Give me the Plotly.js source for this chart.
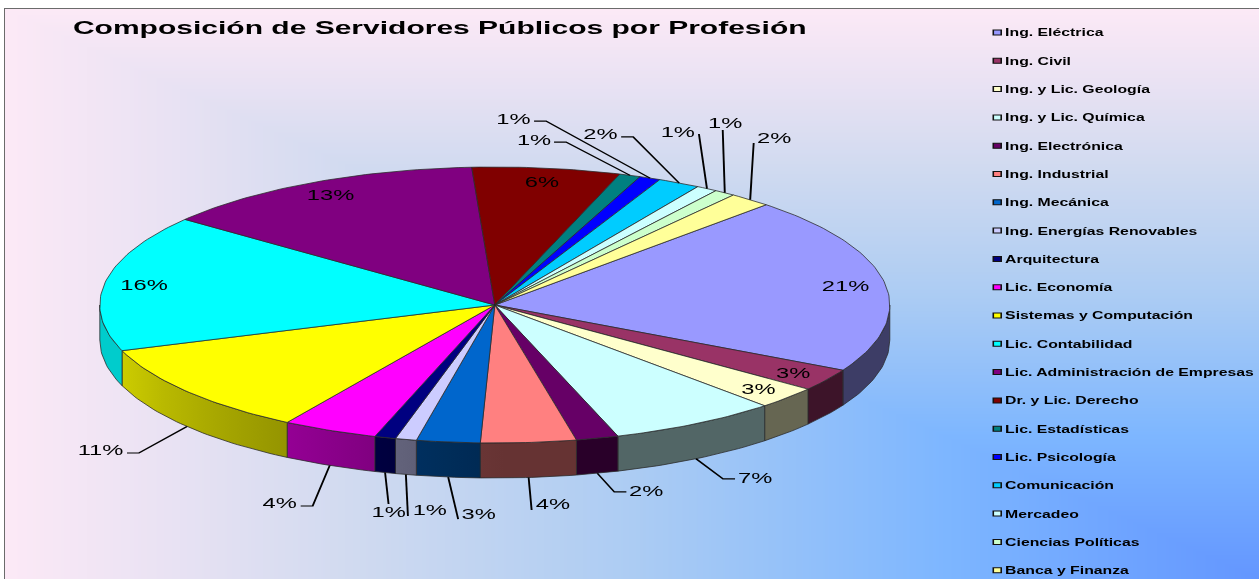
<!DOCTYPE html>
<html><head><meta charset="utf-8">
<script src="https://cdn.plot.ly/plotly-3.0.1.min.js"></script>
<style>
html,body{margin:0;padding:0;background:#fff;width:1259px;height:579px;overflow:hidden}
#frame{position:absolute;left:4px;top:8px;width:1255px;height:571px;border-left:1px solid #6b6b6b;border-top:1px solid #6b6b6b;box-sizing:border-box;overflow:hidden}
#bg{position:absolute;left:0;top:0}
#chart{position:absolute;left:0;top:0;width:830px;height:600px;transform:scaleX(1.58);transform-origin:0 0}
#chart .legendtext{transform:translateX(-15px)}
</style></head><body>
<div id="frame"><canvas id="bg" width="1255" height="571"></canvas><div id="chart"></div></div>
<script>
// ---------------- data ----------------
const categories = ["Ing. Eléctrica","Ing. Civil","Ing. y Lic. Geología","Ing. y Lic. Química","Ing. Electrónica","Ing. Industrial","Ing. Mecánica","Ing. Energías Renovables","Arquitectura","Lic. Economía","Sistemas y Computación","Lic. Contabilidad","Lic. Administración de Empresas","Dr. y Lic. Derecho","Lic. Estadísticas","Lic. Psicología","Comunicación","Mercadeo","Ciencias Políticas","Banca y Finanza"];
const counts = [48,6,6,16,4,9,6,2,2,9,25,37,31,14,2,2,4,2,2,4];
const sliceColors = ["#9999FF","#993366","#FFFFCC","#CCFFFF","#660066","#FF8080","#0066CC","#CCCCFF","#000080","#FF00FF","#FFFF00","#00FFFF","#800080","#800000","#008080","#0000FF","#00CCFF","#CCFFFF","#CCFFCC","#FFFF99"];
const chartTitle = "Composición de Servidores Públicos por Profesión";

// ---------------- layout config (not data) ----------------
const PW = 830, PH = 600;
const G = {cx:310, cy:296, a:250, b:138, depth:35, start:-46.6};
const labelLayout = [
 {mode:'in'},{mode:'in'},{mode:'in'},
 {mode:'R',dx:17.1,dy:20.2},{mode:'R',dx:10.8,dy:18.7},
 {mode:'r',dx:1.9,dy:32.5},{mode:'r',dx:6.3,dy:42},{mode:'r',dx:1.3,dy:41.5},
 {mode:'B',dx:2.2,dy:31.4},{mode:'L',dx:-10.8,dy:40.6},{mode:'L',dx:-30.4,dy:26.5},
 {mode:'in'},{mode:'in'},{mode:'in'},
 {mode:'L',dx:-40.5,dy:-33.3},{mode:'L',dx:-65.8,dy:-57},{mode:'L',dx:-29.1,dy:-46},
 {mode:'l',dx:-5.1,dy:-54.6},{mode:'T',dx:-1.3,dy:-62.8},{mode:'r',dx:2.2,dy:-56.7}
];
const FONT = "Liberation Sans, Arial, sans-serif";

// ---------------- background gradient ----------------
(function(){
  const cv=document.getElementById('bg'), ctx=cv.getContext('2d');
  const W=cv.width,H=cv.height,img=ctx.createImageData(W,H);
  const stops=[[0,[99,150,255]],[0.25,[125,182,255]],[0.5,[172,204,243]],[0.72,[208,218,240]],[0.87,[233,226,243]],[1,[252,233,246]]];
  function col(t){for(let i=1;i<stops.length;i++){if(t<=stops[i][0]){const a=stops[i-1],b=stops[i],f=(t-a[0])/(b[0]-a[0]);return [0,1,2].map(k=>a[1][k]+(b[1][k]-a[1][k])*f);}}return stops[stops.length-1][1];}
  for(let y=0;y<H;y++){for(let x=0;x<W;x++){const t=Math.max(1-x/(W-1),1-y/(H-1));const c=col(t);const p=(y*W+x)*4;img.data[p]=c[0];img.data[p+1]=c[1];img.data[p+2]=c[2];img.data[p+3]=255;}}
  ctx.putImageData(img,0,0);
})();

// ---------------- geometry helpers ----------------
const total = counts.reduce((s,v)=>s+v,0);
const rad = d=>d*Math.PI/180;
function pt(th,dz){return [G.cx+G.a*Math.cos(rad(th)), G.cy+G.b*Math.sin(rad(th))+(dz||0)];}
function hexRGB(h){return [parseInt(h.substr(1,2),16),parseInt(h.substr(3,2),16),parseInt(h.substr(5,2),16)];}
function scaleColor(h,f){const c=hexRGB(h);return 'rgb('+c.map(v=>Math.round(v*f)).join(',')+')';}
function shade(th){return 0.4+0.4*Math.min(1,Math.max(0,(th-90)/70));}
function arc(t0,t1,dz){const n=Math.max(2,Math.ceil(Math.abs(t1-t0)/1));const xs=[],ys=[];for(let i=0;i<=n;i++){const p=pt(t0+(t1-t0)*i/n,dz);xs.push(p[0]);ys.push(p[1]);}return [xs,ys];}

const angles=[];let cum=0;
counts.forEach(v=>{const t0=G.start+cum/total*360;cum+=v;const t1=G.start+cum/total*360;angles.push([t0,t1]);});

const sideTraces=[], topTraces=[], legendTraces=[];
angles.forEach(([t0,t1],i)=>{
  const lo=Math.max(t0,0), hi=Math.min(t1,180);
  if(lo<hi){
    const top=arc(lo,hi,0), bot=arc(hi,lo,G.depth);
    const xs=top[0].concat(bot[0]); xs.push(top[0][0]);
    const ys=top[1].concat(bot[1]); ys.push(top[1][0]);
    const xmin=pt(hi)[0], xmax=pt(lo)[0];
    const cs=[];
    for(let k=0;k<=4;k++){const f=k/4;const x=xmin+f*(xmax-xmin);const c=Math.max(-1,Math.min(1,(x-G.cx)/G.a));const th=Math.acos(c)*180/Math.PI;cs.push([f,scaleColor(sliceColors[i],shade(th))]);}
    sideTraces.push({type:'scatter',mode:'lines',x:xs,y:ys,fill:'toself',fillcolor:scaleColor(sliceColors[i],shade((lo+hi)/2)),
      fillgradient:{type:'horizontal',colorscale:cs},line:{color:'#2a2a2a',width:0.6},hoverinfo:'skip',showlegend:false});
  }
  const a=arc(t0,t1,0);
  topTraces.push({type:'scatter',mode:'lines',x:[G.cx].concat(a[0],[G.cx]),y:[G.cy].concat(a[1],[G.cy]),fill:'toself',
    fillcolor:sliceColors[i],line:{color:'#2a2a2a',width:0.6},hoverinfo:'skip',showlegend:false,name:categories[i]});
  legendTraces.push({type:'scatter',mode:'markers',x:[null],y:[null],name:categories[i],legendgroup:'g'+i,showlegend:true,
    marker:{symbol:'square',size:5,color:sliceColors[i],line:{color:'#111',width:1}}});
});

// ---------------- labels ----------------
const annotations=[]; const lx=[], ly=[];
const TAIL=7.6;
function lab(x,y,text,xa){annotations.push({x:x,y:y,xref:'x',yref:'y',text:text,showarrow:false,xanchor:xa,yanchor:'middle',borderpad:0,font:{family:FONT,size:15,color:'#000'}});}
angles.forEach(([t0,t1],i)=>{
  const mid=(t0+t1)/2, txt=Math.round(counts[i]/total*100)+'%', L=labelLayout[i];
  if(L.mode==='in'){const p=[G.cx+0.9*G.a*Math.cos(rad(mid)),G.cy+0.9*G.b*Math.sin(rad(mid))];lab(p[0],p[1],txt,'center');return;}
  const front=Math.sin(rad(mid))>0;
  const A=pt(mid,front?G.depth:0);
  const E=[A[0]+L.dx,A[1]+L.dy];
  lx.push(A[0],E[0]); ly.push(A[1],E[1]);
  if(L.mode==='L'){const T=E[0]-TAIL;lx.push(T);ly.push(E[1]);lab(T-1,E[1]-3,txt,'right');}
  else if(L.mode==='R'){const T=E[0]+TAIL;lx.push(T);ly.push(E[1]);lab(T+1,E[1]-1,txt,'left');}
  else if(L.mode==='r'){lab(E[0]+1.5,E[1]-6,txt,'left');}
  else if(L.mode==='l'){lab(E[0]-1.5,E[1]-3,txt,'right');}
  else if(L.mode==='B'){lab(E[0],E[1]+8,txt,'center');}
  else if(L.mode==='T'){lab(E[0]+1.3,E[1]-8,txt,'center');}
  lx.push(null); ly.push(null);
});
const leader={type:'scatter',mode:'lines',x:lx,y:ly,line:{color:'#000',width:1.2},hoverinfo:'skip',showlegend:false};

const layout={
  width:PW,height:PH,margin:{l:0,r:0,t:0,b:0},
  paper_bgcolor:'rgba(0,0,0,0)',plot_bgcolor:'rgba(0,0,0,0)',
  xaxis:{range:[0,PW],visible:false,fixedrange:true},
  yaxis:{range:[PH,0],visible:false,fixedrange:true},
  title:{text:chartTitle,x:43/PW,xanchor:'left',xref:'container',y:1-18/PH,yanchor:'middle',yref:'container',
    font:{family:FONT,size:19,weight:'bold',color:'#000'}},
  showlegend:true,
  legend:{x:608/PW,xanchor:'left',y:1-9/PH,yanchor:'top',bgcolor:'rgba(0,0,0,0)',borderwidth:0,
    traceorder:'grouped',tracegroupgap:9.3,font:{family:FONT,size:10,weight:'bold',color:'#000'}},
  annotations:annotations
};
Plotly.newPlot('chart',sideTraces.concat(topTraces,[leader],legendTraces),layout,{displayModeBar:false,staticPlot:true});
</script>
</body></html>
